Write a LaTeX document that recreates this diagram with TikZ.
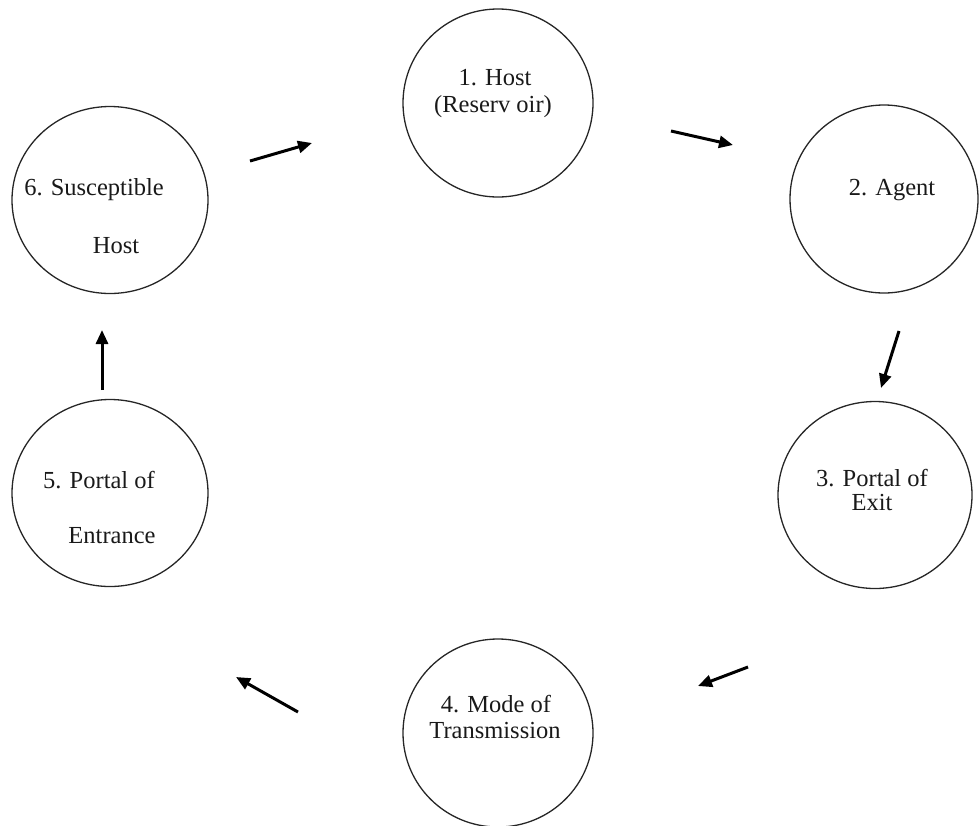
\documentclass[tikz,border=0pt]{standalone}
\usepackage{fontspec}
\setmainfont{Liberation Serif}
\usetikzlibrary{arrows.meta,shapes.geometric}
\begin{document}
\begin{tikzpicture}[x=1pt,y=-1pt,
  stage/.style={draw=black!85, line width=1.3pt, ellipse, inner sep=0pt},
  lbl/.style={font=\fontsize{24.5}{27}\selectfont, anchor=base, text=black!90, inner sep=0pt},
  flow/.style={line width=3pt, -{Triangle[length=14pt,width=12pt]}}]
\useasboundingbox (0,0) rectangle (979,825);

% the six stages of the chain of infection
\node[stage, minimum width=190pt, minimum height=188pt] (host)     at (498,103) {};
\node[stage, minimum width=188pt, minimum height=188pt] (agent)    at (884,199) {};
\node[stage, minimum width=194pt, minimum height=187pt] (exit)     at (875,495) {};
\node[stage, minimum width=190pt, minimum height=188pt] (mode)     at (498,733) {};
\node[stage, minimum width=196pt, minimum height=187pt] (entrance) at (110,493) {};
\node[stage, minimum width=196pt, minimum height=187pt] (suscept)  at (110,200) {};

% stage captions
\node[lbl] (t1a) at (495,85)  {1. Host};
\node[lbl] (t1b) at (493,112) {(Reserv oir)};
\node[lbl] (t2)  at (892,195) {2. Agent};
\node[lbl] (t3a) at (872,486) {3. Portal of};
\node[lbl] (t3b) at (872,510) {Exit};
\node[lbl] (t4a) at (496,712) {4. Mode of};
\node[lbl] (t4b) at (495,738) {Transmission};
\node[lbl] (t5a) at (99,488)  {5. Portal of};
\node[lbl] (t5b) at (112,543) {Entrance};
\node[lbl] (t6a) at (94,195)  {6. Susceptible};
\node[lbl] (t6b) at (116,253) {Host};

% arrow end points between the stages
\coordinate (a61s) at (250,161); \coordinate (a61e) at (312,143);
\coordinate (a12s) at (671,131); \coordinate (a12e) at (733,145);
\coordinate (a23s) at (899,331); \coordinate (a23e) at (881,388);
\coordinate (a34s) at (748,667); \coordinate (a34e) at (698,686);
\coordinate (a45s) at (298,712); \coordinate (a45e) at (236,677);
\coordinate (a56s) at (102,390); \coordinate (a56e) at (102,330);

\draw[flow] (a61s) -- (a61e);
\draw[flow] (a12s) -- (a12e);
\draw[flow] (a23s) -- (a23e);
\draw[flow] (a34s) -- (a34e);
\draw[flow] (a45s) -- (a45e);
\draw[flow] (a56s) -- (a56e);
\end{tikzpicture}
\end{document}
